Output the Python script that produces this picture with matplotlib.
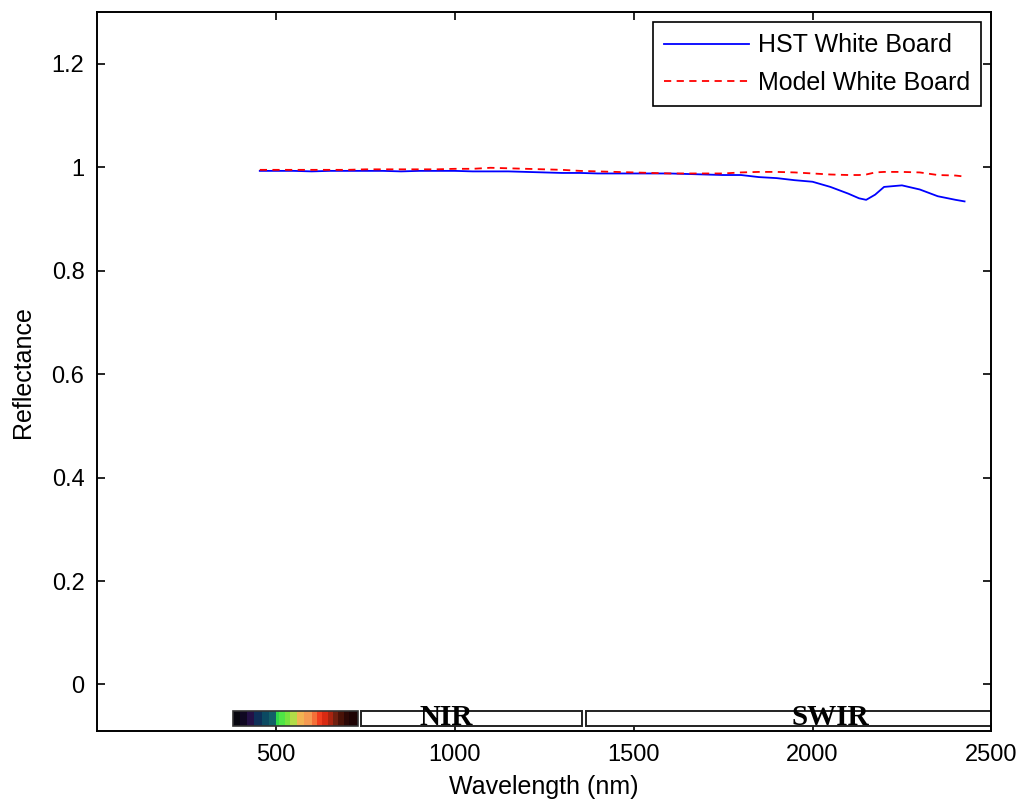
import matplotlib
matplotlib.use("Agg")
import matplotlib.pyplot as plt
from matplotlib.patches import Rectangle

plt.rcParams['font.family'] = ['Liberation Sans', 'DejaVu Sans']

# Wavelength grid (nm) and measured / modelled reflectance of the white board
wavelength = [455, 500, 550, 600, 650, 700, 750, 800, 850, 900, 950, 1000,
              1050, 1100, 1150, 1200, 1250, 1300, 1350, 1400, 1450, 1500,
              1550, 1600, 1650, 1700, 1750, 1800, 1850, 1900, 1950, 2000,
              2050, 2100, 2130, 2150, 2175, 2200, 2250, 2300, 2350, 2400,
              2425]
hst_white = [0.993, 0.993, 0.993, 0.992, 0.993, 0.993, 0.993, 0.993, 0.992,
             0.993, 0.993, 0.993, 0.992, 0.992, 0.992, 0.991, 0.990, 0.989,
             0.989, 0.988, 0.988, 0.988, 0.988, 0.988, 0.987, 0.986, 0.985,
             0.985, 0.981, 0.979, 0.975, 0.972, 0.962, 0.949, 0.940, 0.937,
             0.947, 0.962, 0.965, 0.957, 0.944, 0.937, 0.934]
model_white = [0.995, 0.995, 0.995, 0.995, 0.995, 0.995, 0.996, 0.996, 0.996,
               0.996, 0.996, 0.997, 0.997, 0.999, 0.998, 0.997, 0.996, 0.995,
               0.993, 0.992, 0.991, 0.990, 0.989, 0.988, 0.988, 0.988, 0.988,
               0.990, 0.991, 0.991, 0.990, 0.988, 0.986, 0.985, 0.985, 0.986,
               0.990, 0.991, 0.991, 0.990, 0.985, 0.984, 0.982]

# Visible spectrum strip (edges in nm and block colours)
vis_edges = [380, 400, 420, 440, 460, 480, 500, 510, 525, 540, 560, 580,
             600, 615, 630, 645, 660, 675, 690, 705, 730]
vis_colors = ['#07060f', '#100822', '#241046', '#0e2f58', '#0c4a62',
              '#126068', '#2fd948', '#4ee546', '#78e33e', '#b2dc48',
              '#f2b352', '#f59a52', '#f47038', '#f13d1e', '#d82a12',
              '#a82410', '#702010', '#4a1208', '#2c0806', '#1e0304']

# Spectral region boxes
region_names = ['NIR', 'SWIR']
region_edges = [(737, 1355), (1366, 2540)]
region_label_x = [975, 2050]

fig = plt.figure(figsize=(10.21, 8.06), dpi=100)
ax = fig.add_axes([0.095, 0.093, 0.876, 0.892])

ax.plot(wavelength, hst_white, color='#0000ff', lw=1.3, label='HST White Board')
ax.plot(wavelength, model_white, color='#ff0000', lw=1.3, ls=(0, (4, 3)),
        label='Model White Board')

ax.set_xlim(0, 2500)
ax.set_ylim(-0.09, 1.3)

band_lo, band_hi = -0.081, -0.052
for i, c in enumerate(vis_colors):
    ax.add_patch(Rectangle((vis_edges[i], band_lo), vis_edges[i + 1] - vis_edges[i],
                           band_hi - band_lo, facecolor=c, edgecolor='none', zorder=1.8))
ax.add_patch(Rectangle((vis_edges[0], band_lo), vis_edges[-1] - vis_edges[0],
                       band_hi - band_lo, facecolor='none', edgecolor='#333333',
                       lw=1.2, zorder=1.9))
for name, (a, b), lx in zip(region_names, region_edges, region_label_x):
    ax.add_patch(Rectangle((a, band_lo), b - a, band_hi - band_lo,
                           facecolor='white', edgecolor='#222222', lw=1.4, zorder=1.8))
    ax.text(lx, band_lo + 0.002, name, ha='center', va='baseline',
            family='Liberation Serif', fontweight='bold', fontsize=21, zorder=5)

ax.set_xticks([500, 1000, 1500, 2000, 2500])
ax.set_yticks([0, 0.2, 0.4, 0.6, 0.8, 1.0, 1.2])
ax.set_yticklabels(['0', '0.2', '0.4', '0.6', '0.8', '1', '1.2'])
ax.tick_params(direction='in', length=6, width=1.2, top=True, right=True,
               labelsize=17, pad=9)
for s in ax.spines.values():
    s.set_linewidth(1.4)
    s.set_zorder(6)

ax.set_xlabel('Wavelength (nm)', fontsize=18, labelpad=7)
ax.set_ylabel('Reflectance', fontsize=18, labelpad=12)

leg = ax.legend(loc='upper right', fontsize=18, frameon=True, fancybox=False,
                edgecolor='black', framealpha=1, borderaxespad=0.4,
                handlelength=3.4, handletextpad=0.35, borderpad=0.45,
                labelspacing=0.55)
leg.get_frame().set_linewidth(1.2)

fig.savefig('out.png', dpi=100)
